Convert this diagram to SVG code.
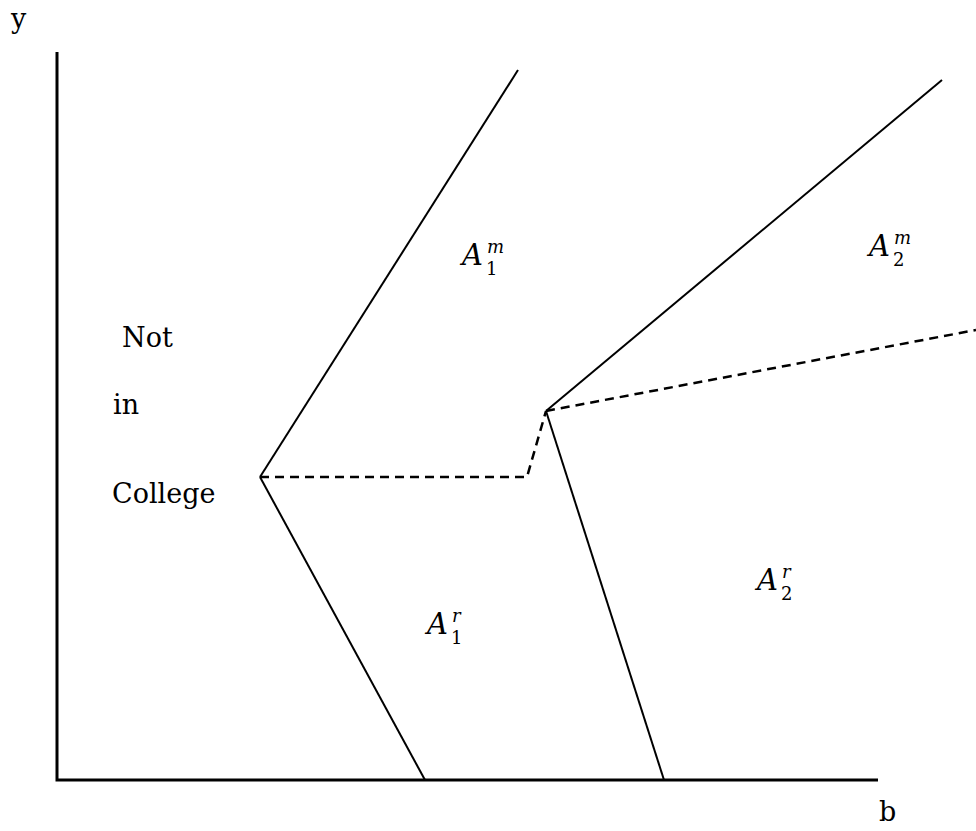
<svg xmlns="http://www.w3.org/2000/svg" width="976" height="831" viewBox="0 0 976 831">
<style>
.ax{stroke:#000;stroke-width:3;fill:none}
.ln{stroke:#000;stroke-width:2;fill:none}
.ds{stroke:#000;stroke-width:2.5;fill:none;stroke-dasharray:9,6}
text{fill:#000}
.t{font-size:27px}
.A{font-size:29px;font-style:italic}
.s{font-size:18px}
</style>
<rect width="976" height="831" fill="#fff"/>
<g font-family="DejaVu Serif, serif">
<g id="axes">
<polyline class="ax" points="57,52 57,780 878,780"/>
<text class="t" x="11" y="28">y</text>
<text class="t" x="879" y="821">b</text>
</g>
<g id="connectors">
<line class="ln" x1="260" y1="477" x2="518" y2="70"/>
<line class="ln" x1="260" y1="477" x2="425" y2="780"/>
<line class="ln" x1="546" y1="411" x2="942" y2="80"/>
<line class="ln" x1="546" y1="411" x2="664" y2="780"/>
<polyline class="ds" points="260,477 527,477 546,411"/>
<line class="ds" x1="546" y1="411" x2="976" y2="330"/>
</g>
<g id="not-in-college">
<text class="t" x="122" y="347">Not</text>
<text class="t" x="113" y="414">in</text>
<text class="t" x="112" y="503">College</text>
</g>
<g id="A1m">
<text class="A" x="462" y="265">A</text>
<text class="s" x="487" y="253" font-style="italic">m</text>
<text class="s" x="486" y="275">1</text>
</g>
<g id="A2m">
<text class="A" x="869" y="256">A</text>
<text class="s" x="894" y="244" font-style="italic">m</text>
<text class="s" x="893" y="266">2</text>
</g>
<g id="A1r">
<text class="A" x="427" y="634">A</text>
<text class="s" x="452" y="622" font-style="italic">r</text>
<text class="s" x="451" y="644">1</text>
</g>
<g id="A2r">
<text class="A" x="757" y="590">A</text>
<text class="s" x="782" y="578" font-style="italic">r</text>
<text class="s" x="781" y="600">2</text>
</g>
</g>
</svg>
